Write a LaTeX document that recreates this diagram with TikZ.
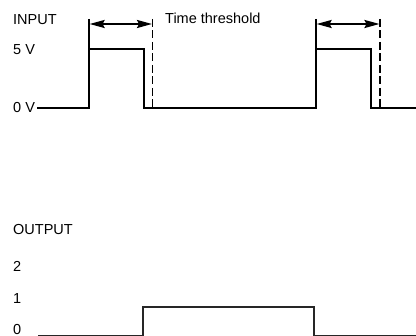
\documentclass[tikz,border=0pt]{standalone}
\usepackage{fontspec}
\setmainfont{Liberation Sans}
\usetikzlibrary{arrows.meta}
\begin{document}
\begin{tikzpicture}[x=1pt,y=-1pt,
  lbl/.style={anchor=base west, inner sep=0pt, font=\fontsize{14.5}{17}\selectfont},
  sig/.style={line width=2pt, line join=miter, line cap=butt},
  outsig/.style={line width=1.4pt, draw=black!85, line join=miter},
  tick/.style={line width=1.3pt},
  limit/.style={line width=1.3pt, dash pattern=on 8pt off 3.5pt},
  span/.style={line width=2pt, {Stealth[length=15pt,width=8pt,inset=2pt]}-{Stealth[length=15pt,width=8pt,inset=2pt]}}
]
\useasboundingbox (0,0) rectangle (416,336);

% labels
\node[lbl] (input) at (13,24.3) {INPUT};
\node[lbl] (v5) at (13,55) {5 V};
\node[lbl] (v0) at (13,112.5) {0 V};
\node[lbl] (thr) at (165,23.3) {Time threshold};
\node[lbl] (output) at (13,235) {OUTPUT};
\node[lbl] (o2) at (13,272) {2};
\node[lbl] (o1) at (13,304) {1};
\node[lbl] (o0) at (13,334.3) {0};

% input waveform
\coordinate (s0) at (37,108.5);
\coordinate (r1) at (89,108.5);
\coordinate (f1) at (144,108.5);
\coordinate (r2) at (316,108.5);
\coordinate (f2) at (371,108.5);
\coordinate (s1) at (416,108.5);
\draw[sig] (s0) -- (r1) -- (89,49) -- (144,49) -- (f1) -- (r2) -- (316,49) -- (371,49) -- (f2) -- (s1);

% first threshold
\coordinate (a1) at (89,19);
\coordinate (b1) at (152.5,19);
\coordinate (b1e) at (152.5,108.5);
\draw[tick] (a1) -- (89,49);
\draw[limit] (b1) -- (b1e);
\draw[span] (89.6,24) -- (152,24);

% second threshold
\coordinate (a2) at (316,19);
\coordinate (b2) at (380,19);
\coordinate (b2e) at (380,108.5);
\draw[tick] (a2) -- (316,49);
\draw[limit] (b2) -- (b2e);
\draw[span] (316.6,24) -- (379.5,24);

% output waveform
\coordinate (u0) at (38,335.3);
\coordinate (u1) at (143,335.3);
\coordinate (u2) at (314,335.3);
\coordinate (u3) at (416,335.3);
\draw[outsig] (u0) -- (u1) -- (143,307) -- (314,307) -- (u2) -- (u3);
\end{tikzpicture}
\end{document}
